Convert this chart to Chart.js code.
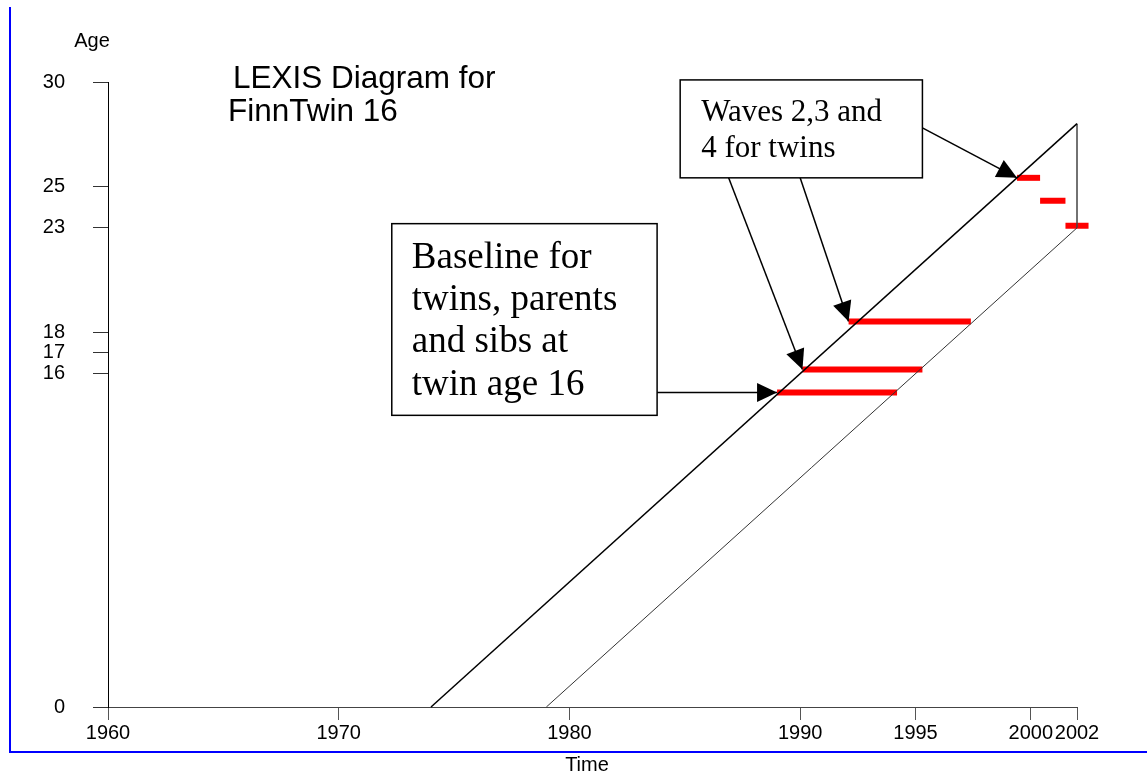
<!DOCTYPE html>
<html>
<head>
<meta charset="utf-8">
<title>LEXIS Diagram for FinnTwin 16</title>
<script src="https://cdn.jsdelivr.net/npm/chart.js@4.4.1/dist/chart.umd.min.js"></script>
<style>
  html, body { margin: 0; padding: 0; background: #fff; }
  canvas { display: block; }
</style>
</head>
<body>
<canvas id="lexis" width="1147" height="776"></canvas>
<script>
// axis ticks
const xTicks = [1960, 1970, 1980, 1990, 1995, 2000, 2002];
const yTicks = [0, 16, 17, 18, 23, 25, 30];

// cohort lifelines: birth year -> age at last year
const cohortBirth = [1974, 1979];
const lastYear = 2002;

// measurement waves (red bars)
const waveStart = [1989.0, 1990.1, 1992.1, 1999.4, 2000.4, 2001.5];
const waveEnd = [1994.2, 1995.3, 1997.4, 2000.4, 2001.5, 2002.5];
const waveAge = [15.1, 16.2, 18.5, 25.4, 24.3, 23.1];

// arrows: tail point (in years / age) and which wave they point at
const arrowFromX = [1983.8, 1986.9, 1990.0, 1995.3];
const arrowFromY = [15.1, 25.4, 25.4, 27.8];
const arrowToWave = [0, 1, 2, 3];

// text boxes, in data units
const notes = [
    { lines: ['Baseline for', 'twins, parents', 'and sibs at', 'twin age 16'],
      x0: 1972.3, x1: 1983.8, y0: 23.2, y1: 14.0, font: '37px "Liberation Serif"', dx: 20, dy: 44, lh: 42.3 },
    { lines: ['Waves 2,3 and', '4 for twins'],
      x0: 1984.8, x1: 1995.3, y0: 30.1, y1: 25.4, font: '31px "Liberation Serif"', dx: 21, dy: 41, lh: 36 }
];

Chart.defaults.font.family = '"Liberation Sans", Arial, sans-serif';
Chart.defaults.font.size = 20;
Chart.defaults.color = '#000';

const datasets = [];

// upper and lower lifelines
cohortBirth.forEach((b, i) => {
    datasets.push({
        data: [{ x: b, y: 0 }, { x: lastYear, y: lastYear - b }],
        borderColor: i === 0 ? '#000' : '#333',
        borderWidth: i === 0 ? 1.5 : 1
    });
});
// closing vertical at last year
datasets.push({
    data: [{ x: lastYear, y: lastYear - cohortBirth[0] }, { x: lastYear, y: lastYear - cohortBirth[1] }],
    borderColor: '#444',
    borderWidth: 1.5
});

for (let i = 0; i < waveStart.length; i++) {
    datasets.push({
        data: [{ x: waveStart[i], y: waveAge[i] }, { x: waveEnd[i], y: waveAge[i] }],
        borderColor: '#ff0000',
        borderWidth: 6,
        borderCapStyle: 'butt'
    });
}

for (let i = 0; i < arrowFromX.length; i++) {
    const w = arrowToWave[i];
    datasets.push({
        isArrow: true,
        data: [{ x: arrowFromX[i], y: arrowFromY[i] }, { x: waveStart[w], y: waveAge[w] }],
        borderColor: '#000',
        borderWidth: 1.5
    });
}

datasets.forEach(d => {
    d.showLine = true;
    d.pointRadius = 0;
    d.pointHoverRadius = 0;
    d.clip = false;
});

const decorations = {
    id: 'decorations',
    afterDatasetsDraw(chart) {
        const ctx = chart.ctx;
        // arrowheads
        chart.data.datasets.forEach((ds, i) => {
            if (!ds.isArrow) return;
            const pts = chart.getDatasetMeta(i).data;
            const a = pts[0], b = pts[1];
            const ang = Math.atan2(b.y - a.y, b.x - a.x);
            const len = 20, half = 9.5;
            ctx.save();
            ctx.translate(b.x, b.y);
            ctx.rotate(ang);
            ctx.beginPath();
            ctx.moveTo(0, 0);
            ctx.lineTo(-len, -half);
            ctx.lineTo(-len, half);
            ctx.closePath();
            ctx.fillStyle = '#000';
            ctx.fill();
            ctx.restore();
        });

        const xs = chart.scales.x, ys = chart.scales.y;
        // note boxes
        notes.forEach(n => {
            const l = xs.getPixelForValue(n.x0), r = xs.getPixelForValue(n.x1);
            const t = ys.getPixelForValue(n.y0), btm = ys.getPixelForValue(n.y1);
            ctx.save();
            ctx.fillStyle = '#fff';
            ctx.fillRect(l, t, r - l, btm - t);
            ctx.strokeStyle = '#000';
            ctx.lineWidth = 1.5;
            ctx.strokeRect(l, t, r - l, btm - t);
            ctx.fillStyle = '#000';
            ctx.font = n.font;
            ctx.textAlign = 'left';
            ctx.textBaseline = 'alphabetic';
            n.lines.forEach((line, k) => ctx.fillText(line, l + n.dx, t + n.dy + k * n.lh));
            ctx.restore();
        });
    },
    afterDraw(chart) {
        const ctx = chart.ctx;
        ctx.save();
        // title
        ctx.fillStyle = '#000';
        ctx.font = '31.5px "Liberation Sans", Arial, sans-serif';
        ctx.textAlign = 'left';
        ctx.textBaseline = 'alphabetic';
        ctx.fillText('LEXIS Diagram for', 233, 88);
        ctx.fillText('FinnTwin 16', 228, 121);
        // axis titles
        ctx.font = '20px "Liberation Sans", Arial, sans-serif';
        ctx.textAlign = 'center';
        ctx.fillText('Age', 92, 47);
        ctx.fillText('Time', 587, 771);
        // blue frame
        ctx.strokeStyle = '#0000ff';
        ctx.lineWidth = 2;
        ctx.beginPath();
        ctx.moveTo(10, 7);
        ctx.lineTo(10, 752);
        ctx.lineTo(1147, 752);
        ctx.stroke();
        ctx.restore();
    }
};

new Chart(document.getElementById('lexis'), {
    type: 'scatter',
    data: { datasets: datasets },
    options: {
        responsive: false,
        animation: false,
        devicePixelRatio: 1,
        layout: { padding: { top: 82, right: 70, left: 0, bottom: 0 } },
        plugins: { legend: { display: false }, tooltip: { enabled: false } },
        scales: {
            x: {
                type: 'linear',
                min: 1960,
                max: 2002,
                afterBuildTicks: s => { s.ticks = xTicks.map(v => ({ value: v })); },
                afterFit: s => { s.height = 69; },
                ticks: { autoSkip: false, maxRotation: 0, padding: 1, callback: v => String(v) },
                grid: { drawOnChartArea: false, tickLength: 13, color: '#555' },
                border: { color: '#444', width: 1 }
            },
            y: {
                type: 'linear',
                min: 0,
                max: 30,
                afterBuildTicks: s => { s.ticks = yTicks.map(v => ({ value: v })); },
                afterFit: s => { s.width = 108; },
                ticks: { autoSkip: false, padding: 28 },
                grid: { drawOnChartArea: false, tickLength: 15, color: '#333' },
                border: { color: '#000', width: 1 }
            }
        }
    },
    plugins: [decorations]
});
</script>
</body>
</html>
